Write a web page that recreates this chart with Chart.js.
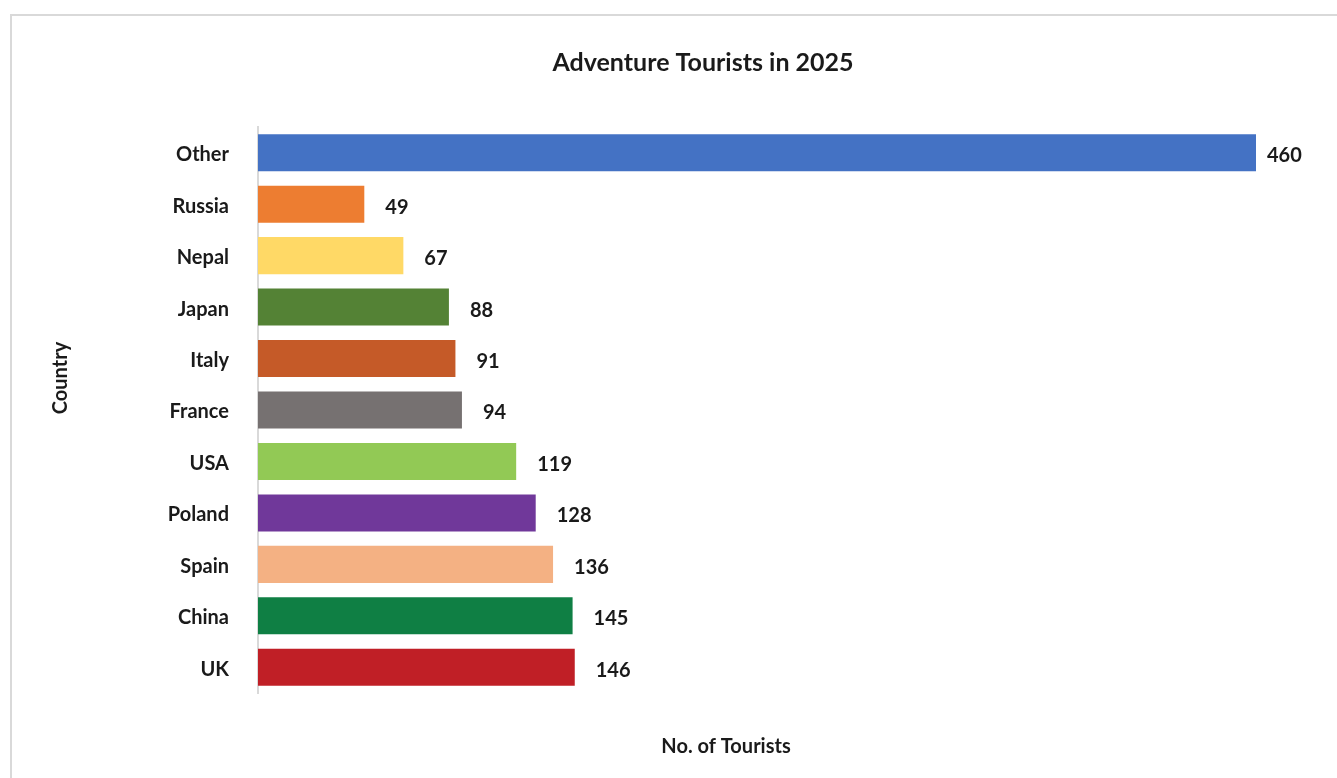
<!DOCTYPE html>
<html>
<head>
<meta charset="utf-8">
<script src="https://cdn.jsdelivr.net/npm/chart.js@4.4.1/dist/chart.umd.min.js"></script>
<style>
  html, body { margin: 0; padding: 0; background: #fff; overflow: hidden; }
  #frame {
    position: absolute; left: 10px; top: 14px;
    width: 1400px; height: 820px;
    border: 2px solid #d9d9d9; box-sizing: border-box;
  }
  #chart { position: absolute; left: 0; top: 0; }
</style>
</head>
<body>
<div id="frame"></div>
<canvas id="chart" width="1337" height="778"></canvas>
<script>
// ── Dados
const countries = ["Other", "Russia", "Nepal", "Japan", "Italy", "France", "USA", "Poland", "Spain", "China", "UK"];
const tourists = [460, 49, 67, 88, 91, 94, 119, 128, 136, 145, 146];
const barColors = [
  "#4472c4", "#ed7d31", "#ffd966", "#548235", "#c55a28", "#767171",
  "#92c955", "#70389a", "#f4b183", "#0f7f44", "#c01f26",
];

const FONT = "Lato, 'Noto Sans', sans-serif";
const INK = "#1a1a1a";

// Valores à direita de cada barra
const valueLabels = {
  id: "valueLabels",
  afterDatasetsDraw(chart) {
    const ctx = chart.ctx;
    const meta = chart.getDatasetMeta(0);
    ctx.save();
    ctx.font = `bold 20px ${FONT}`;
    ctx.fillStyle = INK;
    ctx.textAlign = "left";
    ctx.textBaseline = "middle";
    meta.data.forEach((bar, i) => {
      // a etiqueta da barra mais longa fica mais próxima, como no original
      const gap = i === 0 ? 11 : 21;
      ctx.fillText(String(tourists[i]), bar.x + gap, bar.y + 3);
    });
    ctx.restore();
  },
};

// Títulos dos eixos (posição fixa, como no original)
const axisTitles = {
  id: "axisTitles",
  afterDraw(chart, args, opts) {
    const ctx = chart.ctx;
    ctx.save();
    ctx.font = `bold 20px ${FONT}`;
    ctx.fillStyle = INK;
    ctx.textAlign = "center";
    ctx.textBaseline = "middle";
    ctx.fillText(opts.x.text, opts.x.cx, opts.x.cy);
    ctx.translate(opts.y.cx, opts.y.cy);
    ctx.rotate(-Math.PI / 2);
    ctx.fillText(opts.y.text, 0, 0);
    ctx.restore();
  },
};

new Chart(document.getElementById("chart"), {
  type: "bar",
  data: {
    labels: countries,
    datasets: [{
      label: "No. of Tourists",
      data: tourists,
      backgroundColor: barColors,
      borderWidth: 0,
      barPercentage: 0.9,
      categoryPercentage: 0.8,
    }],
  },
  plugins: [valueLabels, axisTitles],
  options: {
    indexAxis: "y",
    responsive: false,
    animation: false,
    layout: { padding: { top: 0, left: 150, right: 81, bottom: 85 } },
    plugins: {
      legend: { display: false },
      tooltip: { enabled: false },
      title: {
        display: true,
        text: "Adventure Tourists in 2025",
        color: INK,
        font: { family: FONT, size: 25, weight: "bold" },
        padding: { top: 48, bottom: 49 },
      },
      axisTitles: {
        x: { text: "No. of Tourists", cx: 726, cy: 747 },
        y: { text: "Country", cx: 61, cy: 378 },
      },
    },
    scales: {
      x: { display: false, min: 0, max: 460 },
      y: {
        afterFit: (scale) => { scale.width = 108; },
        grid: { display: false, drawTicks: false },
        border: { display: true, color: "#d9d9d9", width: 2 },
        ticks: {
          color: INK,
          padding: 29,
          labelOffset: 2,
          font: { family: FONT, size: 20, weight: "bold" },
        },
      },
    },
  },
});
</script>
</body>
</html>
